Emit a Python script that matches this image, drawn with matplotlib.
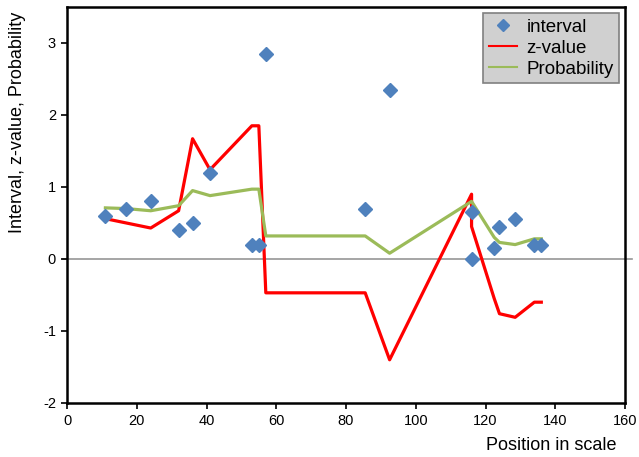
import matplotlib.pyplot as plt
from matplotlib.lines import Line2D

plt.rcParams["font.family"] = ["Liberation Sans", "DejaVu Sans"]
plt.rcParams["axes.unicode_minus"] = False

# interval points (position, interval)
interval_pos = [11, 17, 24, 32, 36, 41, 53, 55, 57, 85.5, 92.5,
                116, 116, 122.5, 124, 128.5, 134, 136]
interval_val = [0.6, 0.7, 0.8, 0.4, 0.5, 1.2, 0.2, 0.2, 2.85, 0.7, 2.35,
                0.65, 0.0, 0.15, 0.45, 0.55, 0.2, 0.2]

# z-value line
z_pos = [11, 17, 24, 32, 36, 41, 53, 55, 57, 85.5, 92.5,
         116, 116, 122.5, 124, 128.5, 134, 136]
z_val = [0.56, 0.5, 0.43, 0.67, 1.67, 1.24, 1.85, 1.85, -0.47, -0.47, -1.4,
         0.9, 0.45, -0.55, -0.76, -0.81, -0.6, -0.6]

# probability line
p_pos = [11, 17, 24, 32, 36, 41, 53, 55, 57, 85.5, 92.5,
         116, 122.5, 124, 128.5, 134, 136]
p_val = [0.71, 0.7, 0.67, 0.74, 0.95, 0.88, 0.97, 0.97, 0.32, 0.32, 0.08,
         0.8, 0.3, 0.23, 0.2, 0.28, 0.28]

x_ticks = [0, 20, 40, 60, 80, 100, 120, 140, 160]
y_ticks = [-2, -1, 0, 1, 2, 3]

fig = plt.figure(figsize=(6.39, 4.57), dpi=100)
ax = fig.add_axes([0.1049, 0.1182, 0.8732, 0.8665])

# zero line spanning a little past the frame
zero = Line2D([-0.008, 1.012], [0, 0], color="#969696", linewidth=1.2,
              transform=ax.get_yaxis_transform(), clip_on=False, zorder=1)
ax.add_line(zero)

ax.plot(z_pos, z_val, color="#FF0000", linewidth=2.3, zorder=2)
ax.plot(p_pos, p_val, color="#9BBB59", linewidth=2.3, zorder=3)
ax.plot(interval_pos, interval_val, linestyle="none", marker="D",
        markersize=7.5, color="#4F81BD", zorder=4)

ax.set_xlim(0, 160)
ax.set_ylim(-2, 3.5)
ax.set_xticks(x_ticks)
ax.set_yticks(y_ticks)
ax.tick_params(direction="out", length=4, width=1.2, labelsize=10.5,
               colors="black", pad=4)

for side in ["left", "right", "top", "bottom"]:
    ax.spines[side].set_linewidth(1.8)
    ax.spines[side].set_color("black")

handles = [
    Line2D([], [], linestyle="none", marker="D", markersize=6,
           color="#4F81BD", label="interval"),
    Line2D([], [], color="#FF0000", linewidth=1.5, label="z-value"),
    Line2D([], [], color="#9BBB59", linewidth=1.5, label="Probability"),
]
leg = ax.legend(handles=handles, loc="upper right",
                bbox_to_anchor=(0.9897, 0.9845), fontsize=13.5,
                frameon=True, fancybox=False, borderpad=0.3,
                labelspacing=0.2, handlelength=1.5, handletextpad=0.5,
                borderaxespad=0)
leg.get_frame().set_facecolor("#D0D0D0")
leg.get_frame().set_edgecolor("#808080")
leg.get_frame().set_linewidth(1.2)
leg.get_frame().set_alpha(1)

fig.text(616 / 639, 1 - 446 / 457, "Position in scale", fontsize=13,
         ha="right", va="center")
fig.text(18 / 639, 1 - 122 / 457, "Interval, z-value, Probability",
         fontsize=13, rotation=90, ha="center", va="center")

fig.savefig("out.png", dpi=100)
plt.close(fig)
